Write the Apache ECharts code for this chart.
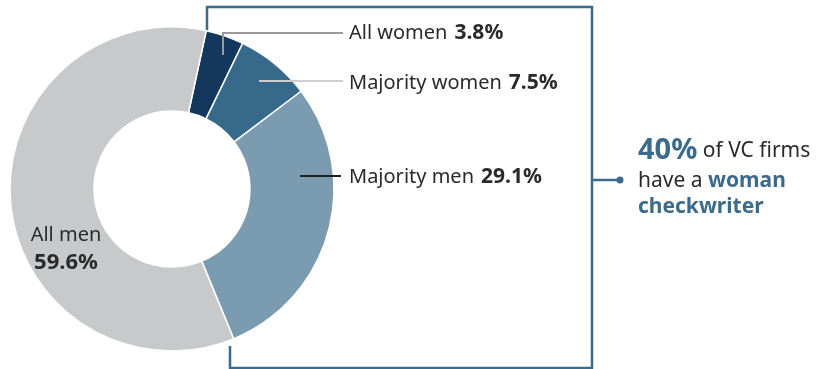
<!DOCTYPE html>
<html><head><meta charset="utf-8">
<script src="https://cdn.jsdelivr.net/npm/echarts@6/dist/echarts.min.js"></script>
<style>html,body{margin:0;padding:0;background:#fff}#c{width:818px;height:369px}</style>
</head><body><div id="c"></div>
<script>
const categories = ['All women', 'Majority women', 'Majority men', 'All men'];
const shares = [3.8, 7.5, 29.1, 59.6];
const sliceColors = ['#14375e', '#376a8a', '#7a9bb0', '#c8c9cb'];
const leaderColors = ['#9a9a9a', '#cfcfcf', '#222222', 'none'];
const labelSpots = [[349, 33], [349, 83], [349, 177], [66, 249]];
const leaderLines = [
  [[223, 55], [223, 33], [343, 33]],
  [[259, 81], [343, 81]],
  [[300, 176], [341, 176]],
  null
];
const FONT = '"Noto Sans", sans-serif';
const BLUE = '#3b6a8a';
const INK = '#2a2a2a';

const chart = echarts.init(document.getElementById('c'), null, {renderer: 'canvas'});
const data = categories.map((c, i) => ({
  name: c, value: shares[i],
  itemStyle: {color: sliceColors[i]},
  label: i === 3 ? {position: 'inside', formatter: '{n|' + c + '}\n{w|' + shares[i] + '%}', align: 'center'} :
    {position: 'outside', formatter: '{n|' + c + '}{s| }{v|' + shares[i] + '%}'}
}));
const leaderGraphics = leaderLines.map((pts, i) => pts ? {
  type: 'polyline', shape: {points: pts}, z: 10,
  style: {stroke: leaderColors[i], lineWidth: 2, fill: null}
} : null).filter(Boolean);

chart.setOption({
  animation: false,
  series: [{
    type: 'pie',
    center: [172, 189],
    radius: [78, 162],
    startAngle: 77.8,
    clockwise: true,
    itemStyle: {borderColor: '#fff', borderWidth: 1.5},
    label: {
      show: true,
      rich: {
        n: {fontFamily: FONT, fontSize: 20, color: INK, lineHeight: 27},
        s: {fontFamily: FONT, fontSize: 20, color: INK, width: 7},
        v: {fontFamily: FONT, fontSize: 21, fontWeight: 'bold', color: INK, lineHeight: 27},
        w: {fontFamily: FONT, fontSize: 22, fontWeight: 'bold', color: INK, lineHeight: 27}
      }
    },
    labelLine: {show: false},
    labelLayout: function (p) {
      const i = p.dataIndex;
      return {x: labelSpots[i][0], y: labelSpots[i][1], verticalAlign: 'middle', align: i === 3 ? 'center' : 'left'};
    },
    data: data
  }],
  graphic: leaderGraphics.concat([
    {type: 'polyline', shape: {points: [[207, 32], [207, 7], [592, 7], [592, 368], [230, 368], [230, 346]]},
      style: {stroke: BLUE, lineWidth: 2.5, fill: null}},
    {type: 'line', shape: {x1: 592, y1: 180, x2: 620, y2: 180}, style: {stroke: BLUE, lineWidth: 2.5}},
    {type: 'circle', shape: {cx: 620, cy: 180, r: 3.5}, style: {fill: BLUE}},
    {type: 'text', x: 638, y: 151, style: {
      text: '{a|40%}{r| of VC firms}', verticalAlign: 'middle',
      rich: {a: {fontFamily: FONT, fontSize: 29, fontWeight: 'bold', fill: BLUE},
             r: {fontFamily: FONT, fontSize: 21, fill: INK}}}},
    {type: 'text', x: 638, y: 181, style: {
      text: '{r|have a }{b|woman}', verticalAlign: 'middle',
      rich: {b: {fontFamily: FONT, fontSize: 21, fontWeight: 'bold', fill: BLUE},
             r: {fontFamily: FONT, fontSize: 21, fill: INK}}}},
    {type: 'text', x: 638, y: 207, style: {
      text: '{b|checkwriter}', verticalAlign: 'middle',
      rich: {b: {fontFamily: FONT, fontSize: 21, fontWeight: 'bold', fill: BLUE}}}}
  ])
});
</script></body></html>
